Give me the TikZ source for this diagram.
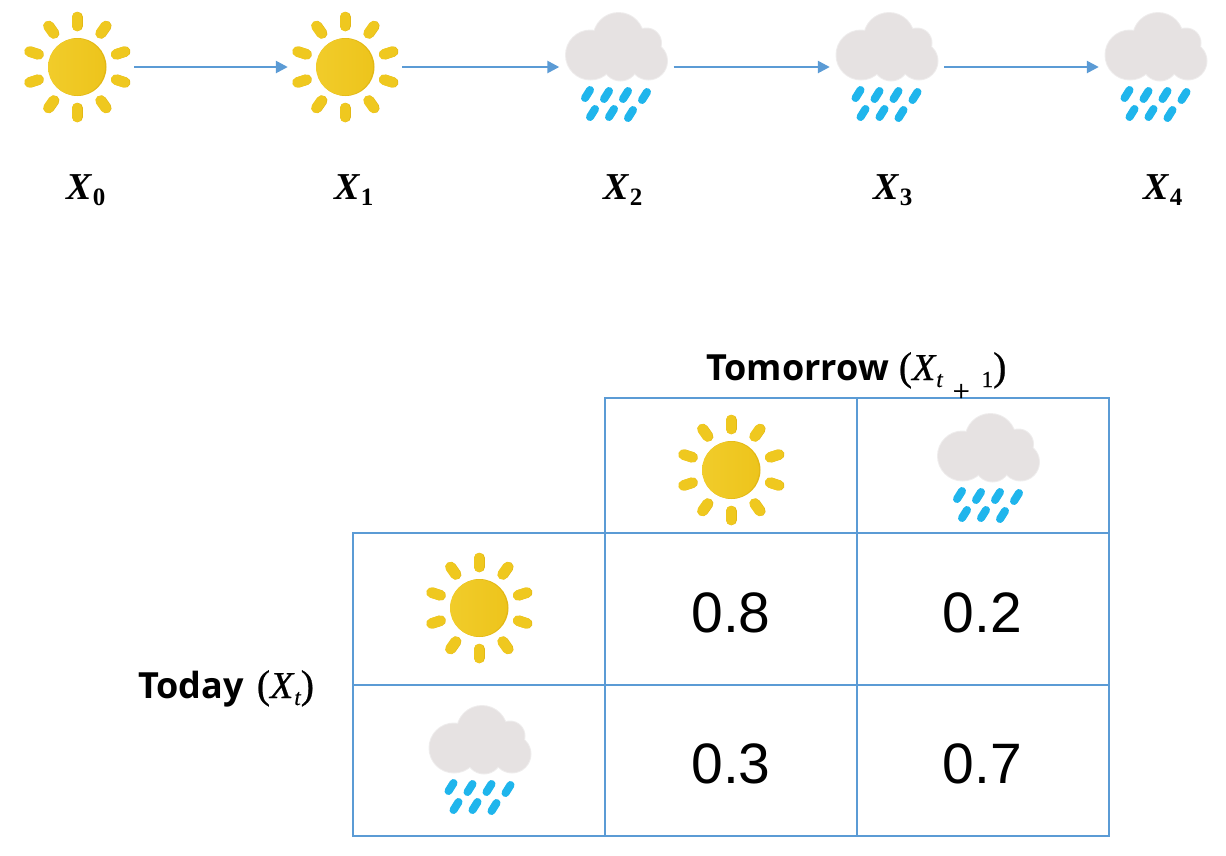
\documentclass[tikz,border=0pt]{standalone}
\usepackage{fontspec}
\setmainfont{Liberation Sans}
\newfontfamily\headfont{Open Sans}
\newfontfamily\varfont{Liberation Serif}
\newfontfamily\headvarfont[FakeBold=0.6]{Liberation Serif}
\usepackage{tikz}
\usetikzlibrary{arrows.meta,positioning}
\definecolor{linecol}{HTML}{5B9BD5}
\definecolor{suncol}{HTML}{EFC81F}
\definecolor{sunlight}{HTML}{F1CC2A}
\definecolor{sundark}{HTML}{EDC41C}
\definecolor{sunrim}{HTML}{E3B815}
\definecolor{cloudcol}{HTML}{E6E2E2}
\definecolor{cloudrim}{HTML}{EFEDED}
\definecolor{raincol}{HTML}{1FB5EC}
\newcommand{\stepvar}[1]{{\varfont\bfseries\itshape\fontsize{38}{40}\selectfont X\kern1pt\raisebox{-6pt}{\upshape\fontsize{25}{30}\selectfont #1}}}
\newcommand{\headvar}[1]{{\headvarfont\mdseries\fontsize{40}{42}\selectfont(\itshape\fontsize{38}{40}\selectfont X\kern1pt\raisebox{-7pt}{\fontsize{23}{30}\selectfont #1}\upshape\fontsize{40}{42}\selectfont)}}
\tikzset{
	sunicon/.pic={
		\foreach \a in {90,55,18,-18,-55,-90,-125,-162,162,125} {
			\draw [sunrim, line width = 10.5, line cap = round] ([xshift=0.7]\a:41) -- ([xshift=0.7]\a:50);
			\draw [suncol, line width = 10.5, line cap = round] (\a:41) -- (\a:50);
		}
		\fill [sunrim] (0.5,0) circle (29);
		\shade [left color=sunlight, right color=sundark] (-0.5,0) circle (28.5);
	},
	cloudicon/.pic={
		\foreach \x/\y/\r in {-26/-12/25.5, 2/-29/26, 30/-24/15.5, 32/-6/19.5, 4/-4/18.5}
			\fill [cloudrim] (\x,\y) circle (\r);
		\foreach \x/\y/\r in {-26/-12/24.5, 2/-29/25, 30/-24/14.5, 32/-6/18.5, 4/-4/17.5}
			\fill [cloudcol] (\x,\y) circle (\r);
		\fill [cloudcol] (-26,-20) rectangle (30,2);
		\foreach \x/\y in {-29/27, -10/28, 9/28, 28/29, -24/46, -5/46, 14/47}
			\draw [raincol, line width = 8, line cap = round]
				(\x-2.5,\y+4) -- (\x+2.5,\y-4);
	},
	icon/.style={minimum width=114pt, minimum height=114pt, inner sep=0pt},
	steplabel/.style={inner sep=0pt},
	cell/.style={draw=linecol, line width=2pt, inner sep=0pt, text height=47pt, font=\fontsize{57}{60}\selectfont},
	headlabel/.style={inner sep=0pt, anchor=base west, font=\headfont\bfseries\fontsize{36}{42}\selectfont},
	link/.style={linecol, line width=2.5pt, -{Triangle[length=12pt,width=12pt]}}
}
\begin{document}
\begin{tikzpicture}[x=1pt, y=-1pt]
\useasboundingbox (0,0) rectangle (1226,855);
% chain of days
\node [icon] (day0) at (77,67) {};
\node [icon] (day1) at (345,67) {};
\node [icon] (day2) at (616.5,67) {};
\node [icon] (day3) at (887,67) {};
\node [icon] (day4) at (1156,67) {};
\pic at (day0) {sunicon};
\pic at (day1) {sunicon};
\foreach \i in {2,3,4}
\pic at (day\i) {cloudicon};
\foreach \i/\j in {0/1,1/2,2/3,3/4}
\draw [link] (day\i) -- (day\j);
\foreach \i/\x in {0/86,1/354,2/623,3/893,4/1163}
\node [steplabel] (name\i) at (\x,190) {\stepvar{\i}};
% table
\node [cell, minimum width=252pt, minimum height=135pt] (headsun) at (731,465.5) {};
\node [cell, minimum width=252pt, minimum height=135pt] (headrain) at (982.5,465.5) {};
\node [cell, minimum width=252pt, minimum height=152pt] (rowsun) at (479,609) {};
\node [cell, minimum width=252pt, minimum height=151pt] (rowrain) at (479,760.5) {};
\node [cell, minimum width=252pt, minimum height=152pt] (sunsun) at (731,609) {0.8};
\node [cell, minimum width=252pt, minimum height=152pt] (sunrain) at (982.5,609) {0.2};
\node [cell, minimum width=252pt, minimum height=151pt] (rainsun) at (731,760.5) {0.3};
\node [cell, minimum width=252pt, minimum height=151pt] (rainrain) at (982.5,760.5) {0.7};
\pic at (731,470) {sunicon};
\pic at (988.5,468) {cloudicon};
\pic at (479,608) {sunicon};
\pic at (480,760) {cloudicon};
\node [headlabel] (tomorrow) at (706,380) {Tomorrow\kern10pt\headvar{t\kern10pt\raisebox{-14pt}{\upshape\fontsize{30}{30}\selectfont +}\kern12pt{\upshape 1}}};
\node [headlabel] (today) at (138,698) {Today\kern13pt\headvar{t}};
\end{tikzpicture}
\end{document}
